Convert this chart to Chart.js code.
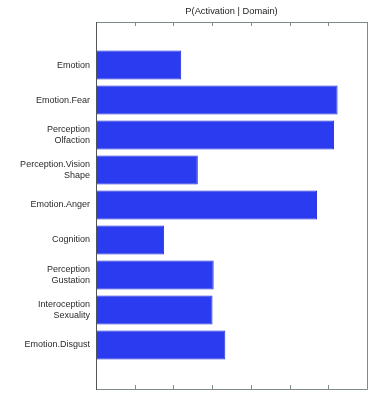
<!DOCTYPE html>
<html>
<head>
<meta charset="utf-8">
<script src="https://cdn.jsdelivr.net/npm/chart.js@4/dist/chart.umd.min.js"></script>
<style>
  html, body { margin: 0; padding: 0; background: #fff; }
  #wrap { width: 382px; height: 394px; }
</style>
</head>
<body>
<div id="wrap"><canvas id="chart"></canvas></div>
<script>
// Domains, top to bottom (arrays = multi-line labels)
const domains = [
  'Emotion',
  'Emotion.Fear',
  ['Perception', 'Olfaction'],
  ['Perception.Vision', 'Shape'],
  'Emotion.Anger',
  'Cognition',
  ['Perception', 'Gustation'],
  ['Interoception', 'Sexuality'],
  'Emotion.Disgust'
];
const activation = [2.20, 6.24, 6.15, 2.63, 5.71, 1.76, 3.04, 3.01, 3.34];
const xTicks = [0, 1, 2, 3, 4, 5, 6, 7];
const titleText = 'P(Activation | Domain)';

// Box around the plot area, small inward ticks on top and bottom,
// and the title centred over the plot
const framePlugin = {
  id: 'frame',
  afterDraw(chart) {
    const { ctx, chartArea: a, scales } = chart;
    ctx.save();
    ctx.lineWidth = 1;
    ctx.strokeStyle = '#7d8b8b';
    ctx.beginPath();
    ctx.moveTo(a.left, a.top + 0.5);
    ctx.lineTo(a.right + 0.5, a.top + 0.5);
    ctx.lineTo(a.right + 0.5, a.bottom + 0.5);
    ctx.lineTo(a.left, a.bottom + 0.5);
    xTicks.forEach(v => {
      const x = Math.round(scales.x.getPixelForValue(v)) + 0.5;
      ctx.moveTo(x, a.top);
      ctx.lineTo(x, a.top + 4);
      ctx.moveTo(x, a.bottom);
      ctx.lineTo(x, a.bottom - 4);
    });
    ctx.stroke();
    ctx.strokeStyle = '#505555';
    ctx.beginPath();
    ctx.moveTo(a.left + 0.5, a.top);
    ctx.lineTo(a.left + 0.5, a.bottom + 1);
    ctx.stroke();

    ctx.fillStyle = '#222';
    ctx.font = '9.3px "Liberation Sans"';
    ctx.textAlign = 'center';
    ctx.textBaseline = 'middle';
    ctx.fillText(titleText, (a.left + a.right) / 2, 11);
    ctx.restore();
  }
};

new Chart(document.getElementById('chart'), {
  type: 'bar',
  data: {
    datasets: [{
      data: activation.map((v, i) => ({ x: v, y: i })),
      backgroundColor: '#2b3cf0',
      borderColor: '#1f2fd8',
      borderWidth: 1,
      categoryPercentage: 1,
      barPercentage: 0.83
    }]
  },
  options: {
    indexAxis: 'y',
    responsive: true,
    maintainAspectRatio: false,
    animation: false,
    layout: { padding: { left: 0, right: 15, top: 22, bottom: 5 } },
    plugins: {
      legend: { display: false },
      tooltip: { enabled: false },
      title: { display: false }
    },
    scales: {
      x: {
        type: 'linear',
        display: false,
        min: 0,
        max: 7
      },
      y: {
        type: 'linear',
        reverse: true,
        offset: false,
        min: -1.23,
        max: 9.26,
        afterBuildTicks: (scale) => {
          scale.ticks = domains.map((_, i) => ({ value: i }));
        },
        afterFit: (scale) => {
          scale.width = 96;
          // labels sit well inside the plot, no edge overflow to reserve
          scale.paddingTop = 0;
          scale.paddingBottom = 0;
        },
        grid: { display: false, drawTicks: false },
        border: { display: false },
        ticks: {
          autoSkip: false,
          padding: 6,
          color: '#2a2a2a',
          font: { family: 'Liberation Sans', size: 9, lineHeight: 1.15 },
          callback: (v) => domains[v] ?? ''
        }
      }
    }
  },
  plugins: [framePlugin]
});
</script>
</body>
</html>
